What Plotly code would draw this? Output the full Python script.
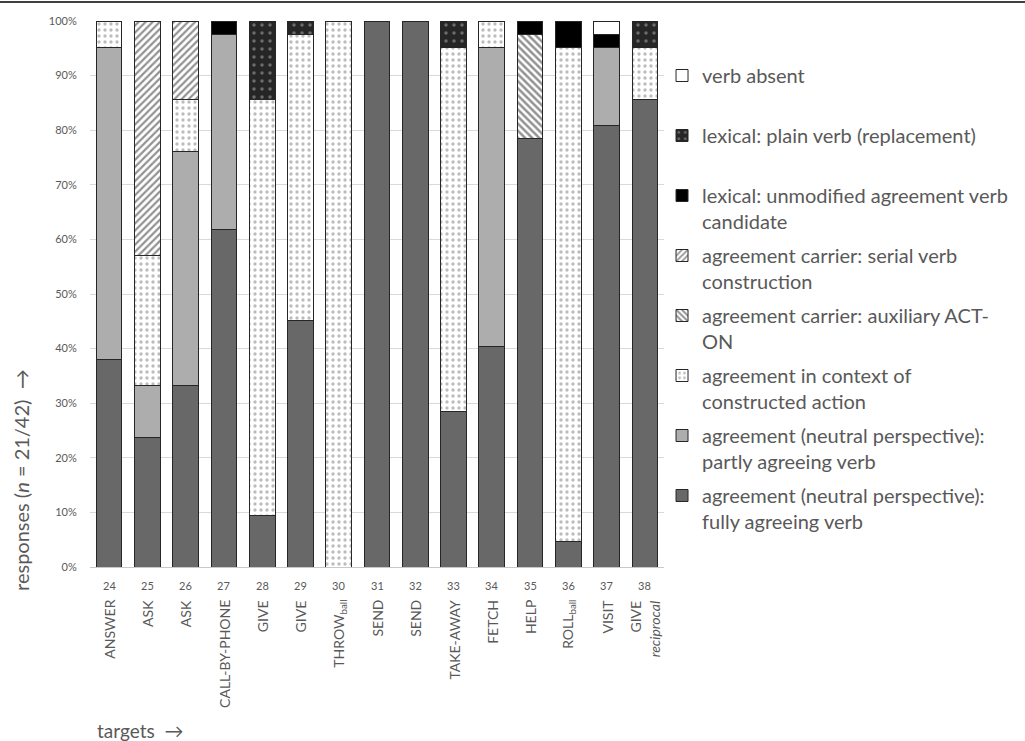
import plotly.graph_objects as go

# ---- data (counts out of 42 response units per target) ----
target_numbers = ["24", "25", "26", "27", "28", "29", "30", "31", "32", "33", "34", "35", "36", "37", "38"]
target_names = ["ANSWER", "ASK", "ASK", "CALL-BY-PHONE", "GIVE", "GIVE", "THROW<sub>ball</sub>",
                "SEND", "SEND", "TAKE-AWAY", "FETCH", "HELP", "ROLL<sub>ball</sub>", "VISIT",
                "GIVE<br><i>reciprocal</i>"]
total = 42
fully_agreeing = [16, 10, 14, 26, 4, 19, 0, 42, 42, 12, 17, 33, 2, 34, 36]
partly_agreeing = [24, 4, 18, 15, 0, 0, 0, 0, 0, 0, 23, 0, 0, 6, 0]
constructed_action = [2, 10, 4, 0, 32, 22, 42, 0, 0, 28, 2, 0, 38, 0, 4]
aux_act_on = [0, 0, 0, 0, 0, 0, 0, 0, 0, 0, 0, 8, 0, 0, 0]
serial_verb = [0, 18, 6, 0, 0, 0, 0, 0, 0, 0, 0, 0, 0, 0, 0]
unmodified = [0, 0, 0, 1, 0, 0, 0, 0, 0, 0, 0, 1, 2, 1, 0]
plain_verb = [0, 0, 0, 0, 6, 1, 0, 0, 0, 2, 0, 0, 0, 0, 2]
verb_absent = [0, 0, 0, 0, 0, 0, 0, 0, 0, 0, 0, 0, 0, 1, 0]
y_ticks = [0, 10, 20, 30, 40, 50, 60, 70, 80, 90, 100]
y_tick_labels = [f"{v}%" for v in y_ticks]

FONT = "Lato"
TXT = "#595959"
OUTLINE = "#262626"

series = [
    ("agreement (neutral perspective):<br>fully agreeing verb", fully_agreeing,
     dict(color="#686868")),
    ("agreement (neutral perspective):<br>partly agreeing verb", partly_agreeing,
     dict(color="#adadad")),
    ("agreement in context of<br>constructed action", constructed_action,
     dict(color="white", pattern=dict(shape=".", bgcolor="white", fgcolor="#7a7a7a", size=6, solidity=0.25))),
    ("agreement carrier: auxiliary ACT-<br>ON", aux_act_on,
     dict(color="white", pattern=dict(shape="\\", bgcolor="white", fgcolor="#262626", size=5, solidity=0.5))),
    ("agreement carrier: serial verb<br>construction", serial_verb,
     dict(color="white", pattern=dict(shape="/", bgcolor="white", fgcolor="#262626", size=5, solidity=0.45))),
    ("lexical: unmodified agreement verb<br>candidate", unmodified,
     dict(color="black")),
    ("lexical: plain verb (replacement)<br> ", plain_verb,
     dict(color="#262626", pattern=dict(shape=".", bgcolor="#262626", fgcolor="#b0b0b0", size=8, solidity=0.15))),
    ("verb absent<br> ", verb_absent,
     dict(color="white")),
]

x_idx = list(range(len(target_numbers)))
n_series = len(series)

fig = go.Figure()
for i, (name, counts, mk) in enumerate(series):
    pct = [c / total * 100 for c in counts]
    mk = dict(mk)
    mk["line"] = dict(color=OUTLINE, width=1)
    fig.add_trace(go.Bar(x=x_idx, y=pct, name=name, marker=mk, legendgroup=f"g{i}",
                         legendrank=1000 + (n_series - i)))

W, H = 1025, 741
ml, mr, mt, mb = 90, 353, 21, 174
ph = H - mt - mb
pw = W - ml - mr


def py(pix):
    return (H - mb - pix) / ph


def px(pix):
    return (pix - ml) / pw


annotations = []
for i, num in enumerate(target_numbers):
    annotations.append(dict(x=i, y=py(585), xref="x", yref="paper", text=num, showarrow=False,
                            font=dict(family=FONT, size=11, color=TXT), xanchor="center", yanchor="middle"))
for i, nm in enumerate(target_names):
    annotations.append(dict(x=i, y=py(598), xref="x", yref="paper", text=nm, showarrow=False,
                            textangle=-90, align="right",
                            font=dict(family=FONT, size=14, color=TXT),
                            xanchor="center", yanchor="top"))

annotations.append(dict(x=px(95), y=py(730), xref="paper", yref="paper",
                        text="targets  →", showarrow=False, xanchor="left", yanchor="middle",
                        font=dict(family=FONT, size=19, color=TXT)))
annotations.append(dict(x=px(20), y=py(480), xref="paper", yref="paper",
                        text="responses (<i>n</i> = 21/42)  →", showarrow=False, textangle=-90,
                        xanchor="center", yanchor="middle",
                        font=dict(family=FONT, size=20, color=TXT)))

fig.update_layout(
    width=W, height=H,
    margin=dict(l=ml, r=mr, t=mt, b=mb),
    barmode="stack", bargap=0.33,
    plot_bgcolor="white", paper_bgcolor="white",
    font=dict(family=FONT, color=TXT),
    xaxis=dict(range=[-0.5, 14.5], tickvals=x_idx, ticktext=[""] * 15, showgrid=False,
               showline=True, linecolor="#c8c8c8", linewidth=1, ticks="", zeroline=False),
    yaxis=dict(range=[0, 100], tickvals=y_ticks, ticktext=y_tick_labels, showgrid=True,
               gridcolor="#d9d9d9", gridwidth=1, zeroline=False, showline=False,
               ticks="outside", ticklen=10, tickcolor="rgba(0,0,0,0)",
               tickfont=dict(family=FONT, size=11, color=TXT)),
    legend=dict(x=px(670), xanchor="left", y=py(56), yanchor="top",
                traceorder="grouped", tracegroupgap=5, valign="top",
                font=dict(family=FONT, size=20, color=TXT), bgcolor="rgba(0,0,0,0)"),
    annotations=annotations,
    shapes=[dict(type="line", xref="paper", yref="paper", x0=-1, x1=2, y0=py(2), y1=py(2),
                 line=dict(color="#404040", width=2))],
)

fig.write_html("out.html", config={"displayModeBar": False},
               post_script="document.body.style.margin='0';document.body.style.overflow='hidden';")
